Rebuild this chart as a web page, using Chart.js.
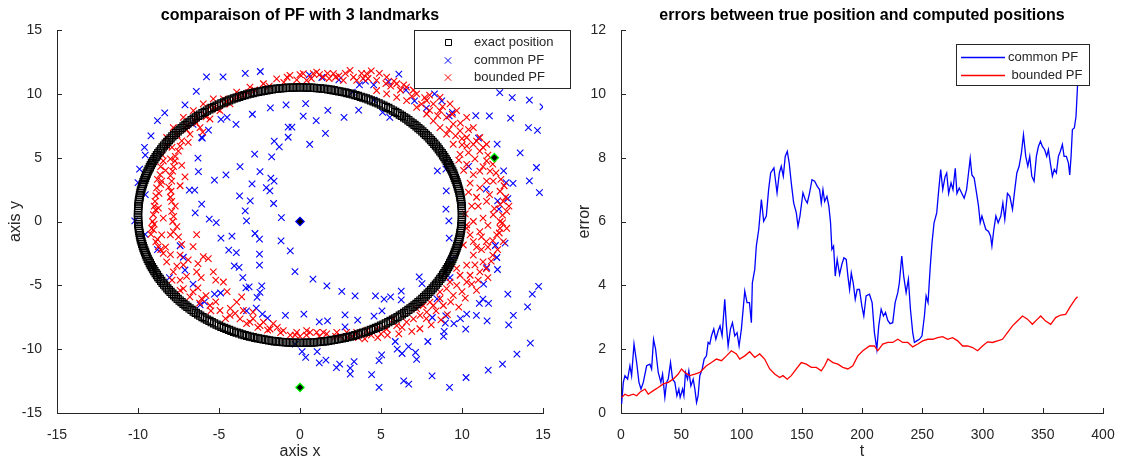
<!DOCTYPE html>
<html>
<head>
<meta charset="utf-8">
<script src="https://cdn.jsdelivr.net/npm/chart.js@4.4.1/dist/chart.umd.min.js"></script>
<style>
html, body { margin: 0; padding: 0; background: #fff; }
#wrap { position: relative; width: 1123px; height: 461px; overflow: hidden; }
#left { position: absolute; left: 0; top: 0; }
#right { position: absolute; left: 572px; top: 0; }
</style>
</head>
<body>
<div id="wrap">
  <canvas id="right" width="551" height="461"></canvas>
  <canvas id="left" width="572" height="461"></canvas>
</div>
<script>
// ---- left plot: positions ----
const titleLeft = 'comparaison of PF with 3 landmarks';
const legendLeft = ['exact position', 'common PF', 'bounded PF'];

// exact trajectory (black squares)
const exactX = [
  10,9.99,9.98,9.95,9.9,9.85,9.78,9.7,9.61,9.51,9.4,9.27,9.14,8.99,8.83,8.66,8.48,8.29,8.09,7.88,7.66,7.43,7.19,6.95,6.69,6.43,6.16,5.88,5.59,5.3,5,4.69,4.38,4.07,3.75,3.42,3.09,2.76,2.42,2.08,1.74,1.39,1.05,0.7,0.35,
  0,-0.35,-0.7,-1.05,-1.39,-1.74,-2.08,-2.42,-2.76,-3.09,-3.42,-3.75,-4.07,-4.38,-4.69,-5,-5.3,-5.59,-5.88,-6.16,-6.43,-6.69,-6.95,-7.19,-7.43,-7.66,-7.88,-8.09,-8.29,-8.48,-8.66,-8.83,-8.99,-9.14,-9.27,-9.4,-9.51,-9.61,-9.7,-9.78,-9.85,-9.9,-9.95,-9.98,-9.99,
  -10,-9.99,-9.98,-9.95,-9.9,-9.85,-9.78,-9.7,-9.61,-9.51,-9.4,-9.27,-9.14,-8.99,-8.83,-8.66,-8.48,-8.29,-8.09,-7.88,-7.66,-7.43,-7.19,-6.95,-6.69,-6.43,-6.16,-5.88,-5.59,-5.3,-5,-4.69,-4.38,-4.07,-3.75,-3.42,-3.09,-2.76,-2.42,-2.08,-1.74,-1.39,-1.05,-0.7,-0.35,
  0,0.35,0.7,1.05,1.39,1.74,2.08,2.42,2.76,3.09,3.42,3.75,4.07,4.38,4.69,5,5.3,5.59,5.88,6.16,6.43,6.69,6.95,7.19,7.43,7.66,7.88,8.09,8.29,8.48,8.66,8.83,8.99,9.14,9.27,9.4,9.51,9.61,9.7,9.78,9.85,9.9,9.95,9.98,9.99,
  10.0,9.99,9.96,9.93,9.88,9.82,9.74,9.66,9.56,9.46,9.34,9.21,9.06,8.91,8.75,8.57,8.39,8.19,7.99,7.77,7.55,7.31,7.07,6.82,6.56,6.29,6.02,5.74,5.45,5.15,4.85,4.54,4.23,3.91,3.58,3.26,2.92,2.59,2.25,1.91,1.56,1.22,0.87,0.52,0.17,
  -0.17,-0.52,-0.87,-1.22,-1.56,-1.91,-2.25,-2.59,-2.92,-3.26,-3.58,-3.91,-4.23,-4.54,-4.85,-5.15,-5.45,-5.74,-6.02,-6.29,-6.56,-6.82,-7.07,-7.31,-7.55,-7.77,-7.99,-8.19,-8.39,-8.57,-8.75,-8.91,-9.06,-9.21,-9.34,-9.46,-9.56,-9.66,-9.74,-9.82,-9.88,-9.93,-9.96,-9.99,-10.0,
  -10.0,-9.99,-9.96,-9.93,-9.88,-9.82,-9.74,-9.66,-9.56,-9.46,-9.34,-9.21,-9.06,-8.91,-8.75,-8.57,-8.39,-8.19,-7.99,-7.77,-7.55,-7.31,-7.07,-6.82,-6.56,-6.29,-6.02,-5.74,-5.45,-5.15,-4.85,-4.54,-4.23,-3.91,-3.58,-3.26,-2.92,-2.59,-2.25,-1.91,-1.56,-1.22,-0.87,-0.52,-0.17,
  0.17,0.52,0.87,1.22,1.56,1.91,2.25,2.59,2.92,3.26,3.58,3.91,4.23,4.54,4.85,5.15,5.45,5.74,6.02,6.29,6.56,6.82,7.07,7.31,7.55,7.77,7.99,8.19,8.39,8.57,8.75,8.91,9.06,9.21,9.34,9.46,9.56,9.66,9.74,9.82,9.88,9.93,9.96,9.99,10.0
];
const exactY = [
  0.5,0.85,1.2,1.55,1.89,2.24,2.58,2.92,3.26,3.59,3.92,4.25,4.57,4.88,5.19,5.5,5.8,6.09,6.38,6.66,6.93,7.19,7.45,7.69,7.93,8.16,8.38,8.59,8.79,8.98,9.16,9.33,9.49,9.64,9.77,9.9,10.01,10.11,10.2,10.28,10.35,10.4,10.45,10.48,10.49,
  10.5,10.49,10.48,10.45,10.4,10.35,10.28,10.2,10.11,10.01,9.9,9.77,9.64,9.49,9.33,9.16,8.98,8.79,8.59,8.38,8.16,7.93,7.69,7.45,7.19,6.93,6.66,6.38,6.09,5.8,5.5,5.19,4.88,4.57,4.25,3.92,3.59,3.26,2.92,2.58,2.24,1.89,1.55,1.2,0.85,
  0.5,0.15,-0.2,-0.55,-0.89,-1.24,-1.58,-1.92,-2.26,-2.59,-2.92,-3.25,-3.57,-3.88,-4.19,-4.5,-4.8,-5.09,-5.38,-5.66,-5.93,-6.19,-6.45,-6.69,-6.93,-7.16,-7.38,-7.59,-7.79,-7.98,-8.16,-8.33,-8.49,-8.64,-8.77,-8.9,-9.01,-9.11,-9.2,-9.28,-9.35,-9.4,-9.45,-9.48,-9.49,
  -9.5,-9.49,-9.48,-9.45,-9.4,-9.35,-9.28,-9.2,-9.11,-9.01,-8.9,-8.77,-8.64,-8.49,-8.33,-8.16,-7.98,-7.79,-7.59,-7.38,-7.16,-6.93,-6.69,-6.45,-6.19,-5.93,-5.66,-5.38,-5.09,-4.8,-4.5,-4.19,-3.88,-3.57,-3.25,-2.92,-2.59,-2.26,-1.92,-1.58,-1.24,-0.89,-0.55,-0.2,0.15,
  0.67,1.02,1.37,1.72,2.06,2.41,2.75,3.09,3.42,3.76,4.08,4.41,4.73,5.04,5.35,5.65,5.95,6.24,6.52,6.79,7.06,7.32,7.57,7.81,8.05,8.27,8.49,8.69,8.89,9.07,9.25,9.41,9.56,9.71,9.84,9.96,10.06,10.16,10.24,10.32,10.38,10.43,10.46,10.49,10.5,
  10.5,10.49,10.46,10.43,10.38,10.32,10.24,10.16,10.06,9.96,9.84,9.71,9.56,9.41,9.25,9.07,8.89,8.69,8.49,8.27,8.05,7.81,7.57,7.32,7.06,6.79,6.52,6.24,5.95,5.65,5.35,5.04,4.73,4.41,4.08,3.76,3.42,3.09,2.75,2.41,2.06,1.72,1.37,1.02,0.67,
  0.33,-0.02,-0.37,-0.72,-1.06,-1.41,-1.75,-2.09,-2.42,-2.76,-3.08,-3.41,-3.73,-4.04,-4.35,-4.65,-4.95,-5.24,-5.52,-5.79,-6.06,-6.32,-6.57,-6.81,-7.05,-7.27,-7.49,-7.69,-7.89,-8.07,-8.25,-8.41,-8.56,-8.71,-8.84,-8.96,-9.06,-9.16,-9.24,-9.32,-9.38,-9.43,-9.46,-9.49,-9.5,
  -9.5,-9.49,-9.46,-9.43,-9.38,-9.32,-9.24,-9.16,-9.06,-8.96,-8.84,-8.71,-8.56,-8.41,-8.25,-8.07,-7.89,-7.69,-7.49,-7.27,-7.05,-6.81,-6.57,-6.32,-6.06,-5.79,-5.52,-5.24,-4.95,-4.65,-4.35,-4.04,-3.73,-3.41,-3.08,-2.76,-2.42,-2.09,-1.75,-1.41,-1.06,-0.72,-0.37,-0.02,0.33
];

// common PF particles (blue x)
const commonX = [
  -5.77,-4.75,-3.38,-2.45,-6.4,-7.1,-8.35,-8.8,-9.2,-9.6,
  -9.55,-9.9,-10,-9.55,-10.2,-9.56,-8.8,-8.06,-7.2,-7.4,
  -7.1,-6.6,-5.9,-4.9,-4.5,-3.95,-2.94,-1.83,-0.86,-0.73,
  -0.5,0.35,0.2,1.0,1.72,1.57,0.6,-0.73,-1.59,-1.28,
  -1.75,-2.8,-3.7,-4.57,-5.28,-6.27,-6.3,-6.03,-5.65,-2.47,
  -1.8,-1.6,-2.08,-1.86,-2.96,-3.07,-3.73,-3.38,-3.3,-1.63,
  -1.15,-6.07,-5.6,-5.17,-6.47,-6.83,-6.5,-4.88,-4.2,-2.78,
  -2.5,-4.4,-3.93,-3.76,-4.06,-3.53,-3.14,-3.34,-2.65,-2.47,
  -2.36,-2.5,-2.5,-1.17,-0.6,-0.31,0.8,1.66,2.58,3.4,
  4.66,5.19,5.59,6.25,6.25,5.06,4.57,2.78,3.56,2.78,
  1.7,1.19,0.24,-0.9,-2.0,-2.32,-2.7,-3.3,-5.28,-6.16,
  -0.29,0.13,0.35,1.06,1.19,1.6,2.25,2.45,3.1,3.1,
  3.34,4.42,4.88,5.04,4.88,5.88,6.4,6.71,7.13,6.3,
  7.89,8.15,8.86,8.97,9.23,10.25,10.23,10.29,10.89,11.07,
  11.29,11.64,11.55,11.33,11.53,12.19,12.15,12.06,12.66,12.28,
  12.2,12.83,11.5,12.72,12.57,12.17,11.69,12.33,13.1,13.0,
  13.59,13.15,14.16,14.6,14.78,14.1,14.66,14.16,15.0,14.73,
  14.34,14.05,14.22,13.39,13.17,12.83,12.88,11.62,12.5,10.85,
  11.02,10.4,9.21,9.01,9.03,9.01,9.19,9.21,9.34,9.26,
  8.46,8.17,7.53,7.36,0.57,1.35,2.4,3.67,4.04,4.55,
  5.46,6.1,6.54,7.07,3.62,2.72,5.1,5.54,7.8,8.3,
  8.75,9.41,8.48,3.23,4.57,-6.6,-4.88,-6.07,
  9.0,9.5,8.9,9.9,6.0,6.7,7.2
];
const commonY = [
  11.33,11.33,11.6,11.75,10.2,9.14,8.5,7.9,6.7,5.8,
  5.2,4.1,3.05,2.1,0.05,-1.0,-2.2,-4.4,-2.8,-1.9,
  -3.8,-4.9,-6.3,-5.6,8.15,7.6,8.4,8.9,9.14,7.4,
  7.4,9.24,8.25,7.9,8.7,6.9,6.05,6.6,6.3,5.85,
  5.07,5.27,4.3,3.65,3.24,3.9,4.96,6.53,7.15,3.9,
  3.4,3.16,2.66,2.4,2.95,1.62,2.0,0.84,0.05,1.41,
  0.31,1.36,0.18,-0.08,0.68,2.45,2.45,-1.3,-1.15,-0.94,
  -1.38,-2.25,-2.43,-3.6,-3.47,-4.39,-5.12,-5.2,-5.95,-5.56,
  -5.04,-3.42,-2.56,-1.51,-2.3,-3.92,-4.52,-5.04,-5.48,-5.82,
  -5.82,-6.08,-5.9,-5.46,-6.14,-7.0,-7.42,-7.31,-7.73,-8.25,
  -7.78,-7.86,-7.26,-7.36,-7.57,-7.26,-6.79,-7.0,-5.69,-6.53,
  -9.6,-10.2,-10.65,-10.2,-11.07,-10.86,-11.44,-11.17,-11.49,-11.96,
  -10.97,-12.0,-10.9,-10.44,-13.0,-9.4,-12.48,-12.74,-10.26,-10.34,
  -9.4,-12.1,-9.0,-7.96,-13.0,-12.22,-8.43,-7.26,-7.36,-6.42,
  -6.08,-6.42,-7.78,-4.9,-3.6,-3.76,-2.82,-1.88,-1.7,0.97,
  1.62,1.8,2.53,3.05,3.97,6.06,8.28,10.1,9.71,8.09,
  5.38,2.98,3.19,4.23,2.27,7.36,7.13,9.5,8.98,-5.09,
  -5.69,-6.68,-9.53,-10.39,-7.36,-5.69,-8.09,-11.64,-11.17,8.3,
  6.53,4.31,8.28,4.1,2.4,0.97,0.05,-1.3,-2.95,-4.39,
  -6.06,-7.52,-4.86,-4.33,11.49,11.28,11.1,10.7,11.0,10.7,
  10.94,11.54,10.29,9.45,8.72,8.15,8.54,8.15,8.88,10.0,
  9.45,8.54,3.97,10.13,9.5,7.6,8.0,6.58,
  -7.4,-8.0,-8.6,-7.6,-10.0,-9.8,-10.8
];

// bounded PF particles (red x)
const boundedX = [
  -6.38,-5.56,-4.73,-3.91,-3.09,-2.26,-1.44,-0.62,0.2,1.03,
  -4.32,-4.94,-5.56,-6.17,-6.79,-7.3,-7.51,-7.72,-7.86,-7.92,-7.96,-7.92,-7.92,-7.86,-7.82,
  -8.44,-8.64,-8.85,-8.95,-9.05,-9.15,-8.54,-8.74,-8.44,-8.54,
  -7.82,-8.23,-7.2,-6.58,-5.97,-5.35,
  -8.75,-8.44,-8.23,-7.82,-7.4,-7.2,-6.6,-6.07,-5.56,-4.94,-4.32,-3.7,-3.09,-2.47,-1.85,-1.03,-0.2,0.62,1.44,
  -7.4,-7.2,-6.38,-5.97,-5.35,-4.73,-5.66,-6.6,-8.0,-6.38,-9.05,
  -3.91,-4.3,-3.5,-2.9,-2.26,-1.65,
  10.29,11.1,11.5,12.35,12.55,10.7,11.3,11.9,10.29,9.88,10.5,11.1,9.67,10.29,9.05,9.46,8.64,8.85,8.23,7.82,7.41,7.0,6.58,5.97,5.35,4.73,4.12,3.5,2.88,2.27,1.65,1.03,0.41,
  7.2,7.6,5.76,8.02,8.64,9.26,9.67,10.08,10.7,10.5,
  3.09,4.12,4.73,5.35,5.97,6.58,7.2,7.82,8.23,8.64,9.05,9.46,9.88,10.29,10.7,11.1,11.52,11.73,11.93,12.35,12.55,12.76,12.35,
  11.52,11.1,10.7,10.29,9.88,9.46,9.05,8.64,8.23,7.82,7.2,6.58,5.97,5.35,4.73,
  10.7,11.1,11.52,10.29,9.67,9.26,8.64,11.1,11.52,12.35,11.93,11.3,10.7,10.29,12.14,12.76,
  2.67,2.06,1.44,0.82,0.41,3.5,
  -2.8,-1.9,-1.0,-0.2,1.8,2.4,3.9,4.4,5.6,6.2,6.9,7.5,8.0,8.5,9.2,9.6,10.0,10.4,10.8,11.3,
  10.9,11.7,12.0,11.6,12.5,11.2,10.9,11.6,11.0,10.0,9.3,8.4,7.8,6.3,5.0,4.4,3.2,2.5,-0.6,0.0,
  -1.4,-2.9,-4.0,-5.2,-5.8,-6.3,-7.0,-7.6,-8.0,-8.3,-8.8,-9.0,-8.9,-8.7,-8.6,-8.3,-8.0,-7.9,-7.6,-7.0,
  -6.5,-5.9,-5.3,-4.7,-4.1,-3.5,-7.3,-7.1,-7.4,
  -9.1,-9.0,-8.9,-8.8,-8.6,-8.5,-8.2,-9.2,-8.9,-8.6,
  -7.7,-7.8,-8.0,-8.1,-8.0,-7.7,-7.8,-7.6,-7.5,-7.3,
  -7.0,-6.4,-5.8,-5.1,-4.5,-3.8,-6.0,-6.9,-7.4,-3.2,
  -0.8,0.0,0.7,1.2,1.7,2.2,2.8,3.3,3.8,4.2,4.9,5.3,5.8,6.4,7.0,7.7,
  8.0,8.8,9.4,9.9,10.4,10.9,11.3,11.6,11.9,12.1,10.3,10.0,9.8,10.1,10.5,
  12.6,12.4,12.7,12.9,12.5,12.3,11.9,12.2,11.8,11.5,11.6,10.8,10.6,10.9,10.2,10.6,10.4,10.2,11.0,11.2,
  9.8,9.1,8.7,8.1,7.4,6.9,6.1,5.4,4.8,4.0,3.6,
  2.9,2.2,1.2,0.4,-0.3,-1.2,-2.0,-2.6,-3.3,-4.6,-5.5,-6.2,-6.8,-7.4,-7.9,
  -6.9,-6.3,-5.2,-4.5,-3.6,-6.1
];
const boundedY = [
  8.29,8.94,9.6,10.13,10.52,10.79,11.18,11.44,11.58,11.7,
  9.21,8.68,8.03,7.36,6.84,6.31,5.52,4.74,3.95,3.16,2.37,1.58,0.79,0,-0.79,
  4.74,3.68,2.63,1.58,0.53,-0.53,3.16,1.05,0.26,-1.05,
  7.36,6.58,8.15,8.68,9.21,9.6,
  -1.97,-2.5,-3.16,-3.95,-4.6,-5.26,-5.52,-6.05,-6.58,-6.97,-7.36,-7.63,-7.89,-8.15,-8.42,-8.55,-8.68,-8.68,-8.68,
  -2.63,-3.4,-3.95,-2.76,-3.95,-4.74,-2.9,-1.97,-1.05,-1.03,-0.66,
  -6.31,-6.8,-6.97,-7.1,-7.89,-8.0,
  -0.26,-0.79,-1.58,-0.53,-1.58,-2.63,-3.16,-2.63,-3.42,-4.21,-4.21,-3.95,-5.0,-4.74,-5.26,-5.79,-6.05,-6.58,-6.58,-7.1,-7.36,-7.63,-7.89,-8.15,-8.42,-8.42,-8.55,-8.68,-8.68,-8.68,-8.81,-8.68,-8.55,
  -6.84,-6.58,-7.63,-6.31,-5.52,-4.74,-3.68,-1.84,-1.58,-1.05,
  11.84,11.58,11.05,11.31,10.79,10.52,10.0,9.47,9.21,8.68,8.15,7.63,7.1,6.58,6.05,5.52,4.74,3.95,3.16,2.37,1.58,0.79,0,
  1.58,2.63,3.68,4.47,5.26,6.05,6.84,7.36,7.89,8.42,8.94,9.47,9.73,10.0,10.26,
  7.36,6.58,6.05,8.15,8.68,9.21,9.73,3.95,3.16,1.32,0.53,0.26,0,-0.53,-1.05,-0.53,
  11.05,11.58,11.31,11.58,11.05,11.05,
  10.3,10.6,10.9,11.1,11.2,11.4,11.2,11.8,10.6,10.3,9.8,9.2,8.7,8.3,7.2,6.7,6.0,5.4,4.9,4.3,
  1.9,2.1,1.0,-0.3,0.5,-2.2,-2.0,-2.0,-4.6,-5.5,-6.3,-7.0,-7.6,-8.3,-8.8,-8.9,-9.0,-9.0,-8.9,-9.0,
  -8.3,-7.6,-7.2,-6.3,-5.8,-5.2,-4.3,-3.5,-2.6,-2.0,-1.4,-0.2,0.9,2.2,2.9,4.0,4.9,5.8,6.8,7.5,
  7.9,8.4,8.9,9.2,9.6,9.9,4.4,3.5,2.8,
  0.0,1.2,2.0,3.3,4.3,5.2,5.9,-1.0,-1.6,-2.2,
  5.1,4.3,3.6,2.7,1.9,1.2,0.4,-0.4,-1.2,-1.8,
  7.2,7.7,8.2,8.8,9.4,9.8,7.0,6.2,5.9,10.1,
  11.3,11.5,11.2,11.5,11.6,11.3,11.6,11.3,11.6,11.2,11.6,10.8,11.0,10.7,10.3,9.7,
  9.9,9.0,8.4,7.7,7.2,6.3,5.8,5.2,4.5,3.8,5.9,6.5,4.8,4.0,3.0,
  2.8,3.3,1.9,1.2,-0.1,-0.9,-1.5,-2.2,-3.1,-3.7,-4.4,-3.4,-4.9,-5.4,-6.0,1.2,2.3,0.6,1.2,-1.2,
  -6.7,-7.3,-7.7,-8.1,-8.4,-8.6,-8.8,-8.9,-9.1,-9.2,-9.1,
  -9.1,-9.0,-9.0,-8.9,-8.9,-8.7,-8.5,-8.3,-8.0,-7.6,-7.0,-6.4,-5.9,-5.4,-4.6,
  -3.0,-3.3,-4.6,-5.5,-5.9,-4.4
];

// landmarks
const landmarkX = [0, 12, 0];
const landmarkY = [0, 5, -13];

// ---- right plot: errors ----
const titleRight = 'errors between true position and computed positions';
const legendRight = ['common PF', ' bounded PF'];

const tCommon = [
  0.5,1.9,3.3,5.5,7.4,8.8,10.8,13.0,14.9,16.6,18.5,21.3,24.0,25.4,27.0,28.7,30.9,33.1,34.5,36.4,
  37.8,39.2,41.1,42.8,44.7,46.4,48.0,49.1,51.1,52.2,53.5,55.2,56.3,58.0,59.9,61.3,62.7,64.0,65.4,67.4,
  69.0,70.9,72.3,73.7,75.1,77.0,78.7,80.6,82.2,83.9,86.1,87.5,88.9,90.8,92.5,94.4,96.3,98.0,99.9,102.7,
  104.6,106.6,108.2,109.0,111.0,112.3,114.3,116.5,118.4,120.6,122.5,124.2,126.9,129.5,131.4,133.0,134.7,136.3,138.0,139.6,
  141.3,143.3,145.5,146.9,148.5,151.0,152.9,154.6,156.5,158.5,160.7,162.9,164.8,166.2,167.6,169.0,170.9,172.5,173.9,175.0,
  176.4,177.8,179.4,181.4,183.3,185.0,186.9,188.3,189.7,191.1,192.7,194.4,196.0,197.9,199.9,201.5,203.4,206.2,208.4,210.3,
  212.3,213.9,215.9,217.8,219.5,221.4,223.3,225.5,227.5,229.7,231.0,233.0,234.6,236.6,238.5,240.2,242.1,243.5,245.4,247.7,
  249.8,251.8,253.2,254.8,256.5,258.1,259.8,262.0,263.7,265.3,267.0,268.9,270.3,271.9,273.9,275.5,277.4,278.8,280.7,282.9,
  284.8,286.8,288.4,289.8,291.2,293.1,295.1,296.7,298.1,299.5,301.1,302.8,305.0,306.7,307.8,309.4,311.1,313.0,315.2,316.9,
  318.5,320.7,322.7,324.9,326.8,328.5,330.4,332.3,334.0,335.9,337.6,339.2,340.9,342.8,344.7,346.4,348.1,349.7,351.6,353.3,
  354.7,356.3,358.0,359.6,361.3,363.0,364.6,366.3,367.7,369.6,371.3,372.4,373.5,374.6,376.2,377.6,378.7,379.5
];
const errCommon = [
  0.28,0.96,1.17,1.06,1.48,1.17,2.16,1.58,0.96,0.75,0.96,1.48,1.53,1.38,2.31,2.0,1.27,0.96,1.22,0.49,
  0.96,1.06,1.58,1.06,0.96,0.54,0.75,0.49,0.75,0.54,1.27,1.06,1.32,0.85,1.06,0.75,0.33,0.54,1.17,1.38,
  1.69,1.79,2.21,2.16,2.42,2.63,2.31,2.57,2.73,2.42,3.56,2.73,2.1,2.63,2.83,2.42,2.52,2.1,2.63,3.82,
  3.46,3.46,2.83,4.08,4.5,5.23,5.75,6.69,6.01,6.17,7.0,7.52,7.68,6.9,7.52,7.73,7.42,8.04,8.2,7.83,
  7.21,6.58,6.27,5.85,6.17,6.9,6.69,6.58,6.9,7.31,7.26,7.1,7.0,6.58,7.0,6.63,6.79,6.48,5.96,5.13,
  5.23,4.29,4.81,4.34,4.66,4.86,4.81,4.29,3.87,4.39,4.08,3.56,3.87,3.87,3.35,3.04,3.67,3.72,3.46,2.52,
  2.0,2.73,3.25,3.04,3.15,2.9,2.8,2.83,3.46,3.77,4.08,4.92,4.29,3.77,4.19,3.25,2.52,2.21,2.26,2.31,
  2.42,3.04,3.67,3.46,4.5,5.33,5.96,6.27,7.0,7.63,7.0,7.4,7.52,6.88,7.21,7.0,7.67,6.88,7.05,6.88,
  6.73,7.0,7.52,7.98,7.46,7.36,6.88,6.48,5.96,6.17,5.96,5.75,5.69,5.54,5.23,5.75,6.17,5.96,6.17,6.58,
  6.06,6.88,6.79,6.38,7.0,7.52,7.73,8.15,8.72,8.04,7.73,8.04,7.42,7.26,8.04,8.35,8.51,8.35,8.25,8.04,
  8.25,7.83,7.42,7.63,7.52,8.04,8.2,8.41,8.04,8.04,7.83,7.46,8.04,8.88,8.93,9.29,10.13,10.75
];

const tBounded = [
  0.5,3.3,6.1,10.2,13,15.7,19.9,22.6,26.8,30.9,35.1,39.2,43.3,47.5,50.2,53,57.1,61.3,65.4,68.2,
  70.9,75.1,79.2,83.4,87.5,91.6,95.8,98.5,102.7,106.8,111,115.1,119.2,123.4,127.5,131.7,134.4,138,141.3,145.5,
  149.6,153.8,157.9,162.1,166.2,169,171.7,175.9,180,184.1,188.3,192.4,196.5,200.7,206.2,210.3,213.1,217.2,221.4,225.5,
  229.7,233.8,238,242.1,246.3,250.4,254.5,258.7,262.8,266.9,271.1,275.2,279.4,283.5,287.6,291.8,295.9,300,304.2,308.3,
  312.5,316.6,320.7,324.9,329,333.2,337.3,341.4,345.6,348.3,352.4,356.6,360.7,364.9,369,373.1,377.3,378.9
];
const errBounded = [
  0.49,0.59,0.54,0.59,0.54,0.65,0.75,0.59,0.7,0.8,0.91,0.96,1.06,1.22,1.38,1.27,1.17,1.22,1.27,1.38,
  1.48,1.58,1.69,1.64,1.79,1.95,1.85,1.69,1.79,1.92,1.74,1.85,1.69,1.38,1.22,1.11,1.17,1.06,1.17,1.38,
  1.58,1.53,1.43,1.43,1.32,1.48,1.69,1.58,1.53,1.43,1.38,1.48,1.79,1.95,2.10,2.10,1.95,2.16,2.21,2.21,
  2.31,2.21,2.21,2.07,2.16,2.26,2.31,2.31,2.36,2.39,2.31,2.36,2.26,2.1,2.1,2.05,1.95,2.1,2.23,2.21,
  2.26,2.31,2.52,2.73,2.88,3.04,2.94,2.78,2.94,3.04,2.88,2.78,2.99,3.07,3.09,3.35,3.58,3.64
];

// ---- drawing ----
const AXIS = '#262626';
const BLUE = '#0000ff';
const RED = '#ff0000';
const FONT = '"Liberation Sans", Arial, Helvetica, sans-serif';
Chart.defaults.font.family = FONT;
Chart.defaults.color = AXIS;

const pts = (xs, ys) => xs.map((x, i) => ({ x: x, y: ys[i] }));

// MATLAB style ticks pointing into the plot
const inwardTicks = {
  id: 'inwardTicks',
  afterDatasetsDraw(chart) {
    const { ctx, chartArea: a, scales } = chart;
    ctx.save();
    ctx.strokeStyle = AXIS;
    ctx.lineWidth = 1;
    ctx.beginPath();
    scales.x.ticks.forEach(t => {
      const px = Math.round(scales.x.getPixelForValue(t.value)) + 0.5;
      ctx.moveTo(px, a.bottom);
      ctx.lineTo(px, a.bottom - 5);
    });
    scales.y.ticks.forEach(t => {
      const py = Math.round(scales.y.getPixelForValue(t.value)) + 0.5;
      ctx.moveTo(a.left, py);
      ctx.lineTo(a.left + 5, py);
    });
    ctx.stroke();
    ctx.restore();
  }
};

// boxed legend like matlab's
const boxLegend = {
  id: 'boxLegend',
  afterDraw(chart, args, o) {
    const ctx = chart.ctx;
    ctx.save();
    ctx.fillStyle = '#fff';
    ctx.fillRect(o.x, o.y, o.w, o.h);
    ctx.strokeStyle = AXIS;
    ctx.lineWidth = 1;
    ctx.strokeRect(o.x + 0.5, o.y + 0.5, o.w, o.h);
    ctx.font = '13px ' + FONT;
    ctx.textBaseline = 'middle';
    ctx.textAlign = 'left';
    o.items.forEach((it, i) => {
      const y = Math.round(o.y + o.first + i * o.step) + 0.5;
      ctx.lineWidth = 1;
      ctx.strokeStyle = it.color;
      ctx.beginPath();
      if (it.kind === 'square') {
        ctx.rect(Math.round(o.mark - 3) + 0.5, y - 3, 6, 6);
      } else if (it.kind === 'cross') {
        ctx.moveTo(o.mark - 3.2, y - 3.2); ctx.lineTo(o.mark + 3.2, y + 3.2);
        ctx.moveTo(o.mark - 3.2, y + 3.2); ctx.lineTo(o.mark + 3.2, y - 3.2);
      } else {
        ctx.lineWidth = 1.3;
        ctx.moveTo(o.lineFrom, y); ctx.lineTo(o.lineTo, y);
      }
      ctx.stroke();
      ctx.fillStyle = AXIS;
      ctx.fillText(it.text, o.textX, y);
    });
    ctx.restore();
  }
};

function linAxis(min, max, step, label, fit, titlePad, tickPad) {
  return {
    type: 'linear', min: min, max: max,
    ticks: { stepSize: step, padding: tickPad, font: { size: 14 }, color: AXIS },
    grid: { display: false },
    border: { display: true, color: AXIS, width: 1 },
    title: { display: true, text: label, font: { size: 16 }, color: AXIS, padding: titlePad },
    afterFit: fit
  };
}

const titleOpts = text => ({
  display: true, text: text, fullSize: false, color: '#000',
  font: { size: 16, weight: 'bold' }, padding: { top: 6, bottom: 4.8 }
});

new Chart(document.getElementById('left'), {
  type: 'scatter',
  data: {
    datasets: [
      { label: 'landmarks', data: pts(landmarkX, landmarkY), pointStyle: 'rectRot', pointRadius: 4.2,
        pointBackgroundColor: '#000', pointBorderColor: [BLUE, '#00ff00', '#00ff00'], pointBorderWidth: 1.2, order: 0 },
      { label: legendLeft[0], data: pts(exactX, exactY), pointStyle: 'rect', pointRadius: 5,
        pointBackgroundColor: 'rgba(0,0,0,0)', pointBorderColor: '#000', pointBorderWidth: 1.2, order: 1 },
      { label: legendLeft[2], data: pts(boundedX, boundedY), pointStyle: 'crossRot', pointRadius: 4.6,
        pointBorderColor: RED, pointBorderWidth: 1.1, order: 2 },
      { label: legendLeft[1], data: pts(commonX, commonY), pointStyle: 'crossRot', pointRadius: 4.6,
        pointBorderColor: BLUE, pointBorderWidth: 1.1, order: 3 }
    ]
  },
  options: {
    responsive: false, animation: false, events: [],
    layout: { padding: { left: 0, right: 29, top: 0, bottom: 0 } },
    plugins: {
      legend: { display: false },
      tooltip: { enabled: false },
      title: titleOpts(titleLeft),
      boxLegend: {
        x: 414, y: 30, w: 156, h: 58, first: 11.7, step: 17.8, mark: 448, textX: 474,
        items: [
          { kind: 'square', color: '#000', text: legendLeft[0] },
          { kind: 'cross', color: BLUE, text: legendLeft[1] },
          { kind: 'cross', color: RED, text: legendLeft[2] }
        ]
      }
    },
    scales: {
      x: linAxis(-15, 15, 5, 'axis x', s => { s.height = 48; }, { top: 0, bottom: 0 }, 6),
      y: linAxis(-15, 15, 5, 'axis y', s => { s.width = 57; }, { top: 6.4, bottom: 0 }, 7)
    }
  },
  plugins: [inwardTicks, boxLegend]
});

new Chart(document.getElementById('right'), {
  type: 'line',
  data: {
    datasets: [
      { label: legendRight[0], data: pts(tCommon, errCommon), borderColor: BLUE, borderWidth: 1.3,
        pointRadius: 0, tension: 0, fill: false, order: 1 },
      { label: legendRight[1], data: pts(tBounded, errBounded), borderColor: RED, borderWidth: 1.3,
        pointRadius: 0, tension: 0, fill: false, order: 0 }
    ]
  },
  options: {
    responsive: false, animation: false, events: [],
    layout: { padding: { left: 0, right: 20, top: 0, bottom: 0 } },
    plugins: {
      legend: { display: false },
      tooltip: { enabled: false },
      title: titleOpts(titleRight),
      boxLegend: {
        x: 384, y: 44, w: 133, h: 41, first: 12.7, step: 18.6, lineFrom: 389, lineTo: 433, textX: 436,
        items: [
          { kind: 'line', color: BLUE, text: legendRight[0] },
          { kind: 'line', color: RED, text: legendRight[1] }
        ]
      }
    },
    scales: {
      x: linAxis(0, 400, 50, 't', s => { s.height = 48; }, { top: 0, bottom: 0 }, 6),
      y: linAxis(0, 12, 2, 'error', s => { s.width = 49; }, { top: 3.4, bottom: 0 }, 7)
    }
  },
  plugins: [inwardTicks, boxLegend]
});
</script>
</body>
</html>
